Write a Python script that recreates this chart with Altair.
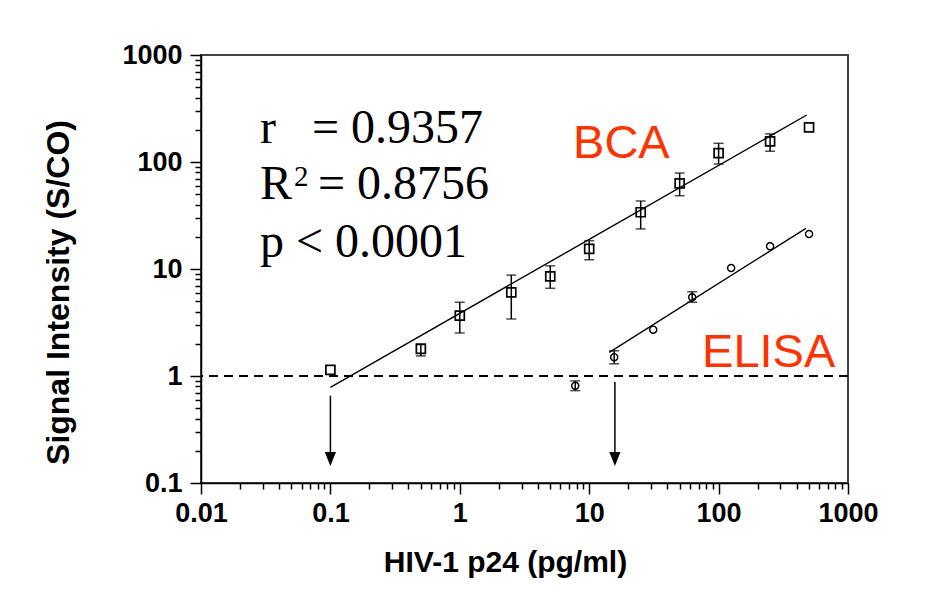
import altair as alt
import pandas as pd

# ---- data ----
bca_x = [0.1, 0.5, 1, 2.5, 5, 10, 25, 50, 100, 250, 500]
bca_y = [1.14, 1.79, 3.66, 6.06, 8.55, 15.4, 33.9, 63.2, 121, 156, 211]
bca_lo = [None, 1.54, 2.52, 3.41, 6.6, 12.2, 23.7, 48.4, 95.8, 126, None]
bca_hi = [None, 1.99, 4.88, 8.77, 10.7, 18.4, 43.2, 78.9, 149.5, 183, None]

elisa_x = [7.8, 15.6, 31.25, 62.5, 125, 250, 500]
elisa_y = [0.81, 1.50, 2.71, 5.44, 10.2, 16.3, 21.2]
elisa_lo = [0.73, 1.30, None, 4.89, None, None, None]
elisa_hi = [0.90, 1.72, None, 6.13, None, None, None]

bca_fit_x = [0.1, 480]
bca_fit_y = [0.784, 275]
elisa_fit_x = [14.3, 473]
elisa_fit_y = [1.66, 24.0]

cutoff = [1]

arrow_x = [0.1, 15.8]
arrow_start = [0.655, 0.879]
arrow_tip = [0.168, 0.168]

stats_text = ["r\u00a0\u00a0\u00a0= 0.9357", "R", "p < 0.0001"]
stats_x = [0.0286, 0.0286, 0.0286]
stats_y = [150.6, 44.8, 13.0]
r2_sup = ["2"]
r2_value = ["= 0.8756"]
r2_x = [0.0286]
r2_y = [44.8]

method_text = ["BCA", "ELISA"]
method_x = [7.5, 74.5]
method_y = [109, 1.21]

x_ticks = [round(m * 10 ** e, 8) for e in range(-2, 3) for m in range(1, 10)] + [1000]
y_ticks = [round(m * 10 ** e, 8) for e in range(-1, 3) for m in range(1, 10)] + [1000]

# ---- tables ----
pts = pd.DataFrame(
    {"x": bca_x + elisa_x, "y": bca_y + elisa_y,
     "lo": bca_lo + elisa_lo, "hi": bca_hi + elisa_hi,
     "series": ["BCA"] * len(bca_x) + ["ELISA"] * len(elisa_x)}
)
err = pts.dropna()
fits = pd.DataFrame(
    {"x": bca_fit_x + elisa_fit_x, "y": bca_fit_y + elisa_fit_y,
     "series": ["BCA"] * 2 + ["ELISA"] * 2}
)
cut = pd.DataFrame({"y": cutoff})
arrows = pd.DataFrame({"x": arrow_x, "y": arrow_start, "y2": arrow_tip})
stats = pd.DataFrame({"x": stats_x, "y": stats_y, "t": stats_text})
sup = pd.DataFrame({"x": r2_x, "y": r2_y, "t": r2_sup})
r2v = pd.DataFrame({"x": r2_x, "y": r2_y, "t": r2_value})
methods = pd.DataFrame({"x": method_x, "y": method_y, "t": method_text})

major = "abs(log(datum.value)/LN10 - round(log(datum.value)/LN10)) < 0.000001"
tick_cond = {"condition": {"test": major, "value": 11}, "value": 6}

common_axis = dict(
    labelFont="Liberation Sans", labelFontWeight="bold", labelFontSize=27,
    labelColor="black", labelOverlap=False, labelFlush=False,
    labelExpr=f"({major}) ? format(datum.value, '~g') : ''",
    tickSize=tick_cond, tickWidth=1.5, tickColor="black",
    domainColor="black", domainWidth=1.5, grid=False,
    titleFont="Liberation Sans", titleFontWeight="bold", titleColor="black",
    titleBaseline="alphabetic", titleAlign="center",
)
xaxis = alt.Axis(values=x_ticks, labelPadding=6, titleFontSize=30,
                 titleX=304, titleY=88, **common_axis)
yaxis = alt.Axis(values=y_ticks, labelPadding=8, titleFontSize=32,
                 titleAngle=-90, titleX=-133, titleY=237, **common_axis)

xscale = alt.Scale(type="log", domain=[0.01, 1000], nice=False)
yscale = alt.Scale(type="log", domain=[0.1, 1000], nice=False)
XT = "HIV-1 p24 (pg/ml)"
YT = "Signal Intensity (S/CO)"


def X(f="x"):
    return alt.X(f"{f}:Q", scale=xscale, axis=xaxis, title=XT)


def Y(f="y"):
    return alt.Y(f"{f}:Q", scale=yscale, axis=yaxis, title=YT)


cut_layer = alt.Chart(cut).mark_rule(
    color="black", strokeWidth=2, strokeDash=[9, 6]
).encode(y=Y())

err_rule = alt.Chart(err).mark_rule(color="black", strokeWidth=1.5).encode(
    x=X(), y=Y("lo"), y2="hi:Q")
cap_lo = alt.Chart(err).mark_tick(orient="horizontal", size=10, thickness=1.5,
                                  color="black").encode(x=X(), y=Y("lo"))
cap_hi = alt.Chart(err).mark_tick(orient="horizontal", size=10, thickness=1.5,
                                  color="black").encode(x=X(), y=Y("hi"))

fit_layer = alt.Chart(fits).mark_line(color="black", strokeWidth=1.4).encode(
    x=X(), y=Y(), detail="series:N")

sq = alt.Chart(pts).transform_filter("datum.series == 'BCA'").mark_point(
    shape="square", size=81, filled=False, stroke="black", strokeWidth=1.7, opacity=1
).encode(x=X(), y=Y())
ci = alt.Chart(pts).transform_filter("datum.series == 'ELISA'").mark_point(
    shape="circle", size=50, filled=False, stroke="black", strokeWidth=1.4, opacity=1
).encode(x=X(), y=Y())

arrow_rule = alt.Chart(arrows).mark_rule(color="black", strokeWidth=1.5).encode(
    x=X(), y=Y(), y2="y2:Q")
arrow_head = alt.Chart(arrows).mark_point(
    shape="M-0.8,-1L0.8,-1L0,1Z", size=196, filled=True, color="black", opacity=1
).encode(x=X(), y=Y("y2"))

text_style = dict(align="left", baseline="alphabetic", font="Liberation Serif",
                  color="black")
stats_layer = alt.Chart(stats).mark_text(fontSize=48, **text_style).encode(
    x=X(), y=Y(), text="t:N")
sup_layer = alt.Chart(sup).mark_text(fontSize=29, dx=34, dy=-13, **text_style).encode(
    x=X(), y=Y(), text="t:N")
r2v_layer = alt.Chart(r2v).mark_text(fontSize=48, dx=58, **text_style).encode(
    x=X(), y=Y(), text="t:N")
method_layer = alt.Chart(methods).mark_text(
    align="left", baseline="alphabetic", font="Liberation Sans", fontSize=47,
    color="#FF3300"
).encode(x=X(), y=Y(), text="t:N")

chart = alt.layer(
    cut_layer, err_rule, cap_lo, cap_hi, fit_layer, sq, ci,
    arrow_rule, arrow_head, stats_layer, sup_layer, r2v_layer, method_layer
).properties(
    width=647, height=428, autosize="none",
    padding={"left": 193, "top": 47, "right": 81, "bottom": 118},
    background="white",
).configure_view(stroke="#444", strokeWidth=2)

chart.save("out.html", embed_options={"renderer": "svg", "actions": False})
